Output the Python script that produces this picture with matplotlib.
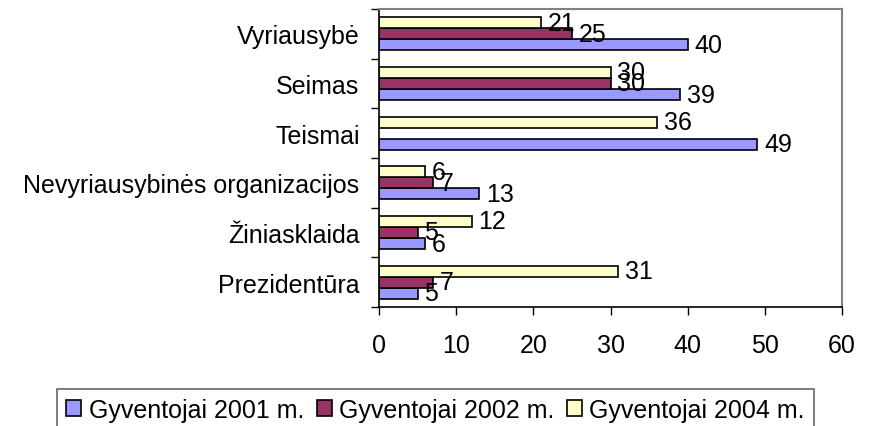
import numpy as np
import matplotlib
matplotlib.use("Agg")
from matplotlib import pyplot as plt

plt.rcParams['font.family'] = ['Liberation Sans', 'DejaVu Sans']

kategorijos = ['Prezidentūra', 'Žiniasklaida', 'Nevyriausybinės organizacijos',
               'Teismai', 'Seimas', 'Vyriausybė']
g2001 = [5, 6, 13, 49, 39, 40]
g2002 = [7, 5, 7, np.nan, 30, 25]
g2004 = [31, 12, 6, 36, 30, 21]
serijos = ['Gyventojai 2001 m.', 'Gyventojai 2002 m.', 'Gyventojai 2004 m.']
spalvos = ['#9999FF', '#993366', '#FFFFCC']

fig = plt.figure(figsize=(8.72, 4.27), dpi=100)
ax = fig.add_axes([379 / 872, 1 - 308 / 427, 463 / 872, 298 / 427])

y = np.arange(len(kategorijos))
h = 0.222
fs = 18

for k, (vals, spalva, vardas) in enumerate(zip([g2001, g2002, g2004], spalvos, serijos)):
    pos = y + (k - 1) * h
    ax.barh(pos, vals, height=h, color=spalva, edgecolor='black', linewidth=1.2, label=vardas)
    for p, v in zip(pos, vals):
        if np.isnan(v):
            continue
        ax.annotate(str(v), (v, p), xytext=(5, 0), textcoords='offset points',
                    va='center', ha='left', fontsize=fs)

ax.set_xlim(0, 60)
ax.set_ylim(-0.5, len(kategorijos) - 0.5)
ax.set_xticks(range(0, 61, 10))
ax.set_yticks(y)
ax.set_yticklabels(kategorijos)
ax.set_yticks(np.arange(-0.5, len(kategorijos)), minor=True)
ax.tick_params(axis='y', which='major', length=0, pad=14, labelsize=fs)
ax.tick_params(axis='y', which='minor', length=6, width=1, direction='out')
ax.tick_params(axis='x', length=6, width=1, direction='out', pad=13, labelsize=fs)

for s in ['top', 'right']:
    ax.spines[s].set_color('#808080')
    ax.spines[s].set_linewidth(1.5)
for s in ['left', 'bottom']:
    ax.spines[s].set_color('black')
    ax.spines[s].set_linewidth(1.2)

leg = fig.legend(loc='upper center', bbox_to_anchor=(435.5 / 872, 1 - 390 / 427),
                 ncol=3, fontsize=fs, frameon=True, fancybox=False,
                 handlelength=0.6, handleheight=0.6, handletextpad=0.3,
                 columnspacing=0.5, borderpad=0.35, borderaxespad=0)
leg.get_frame().set_edgecolor('#404040')
leg.get_frame().set_linewidth(1.2)

fig.savefig('out.png', dpi=100)
